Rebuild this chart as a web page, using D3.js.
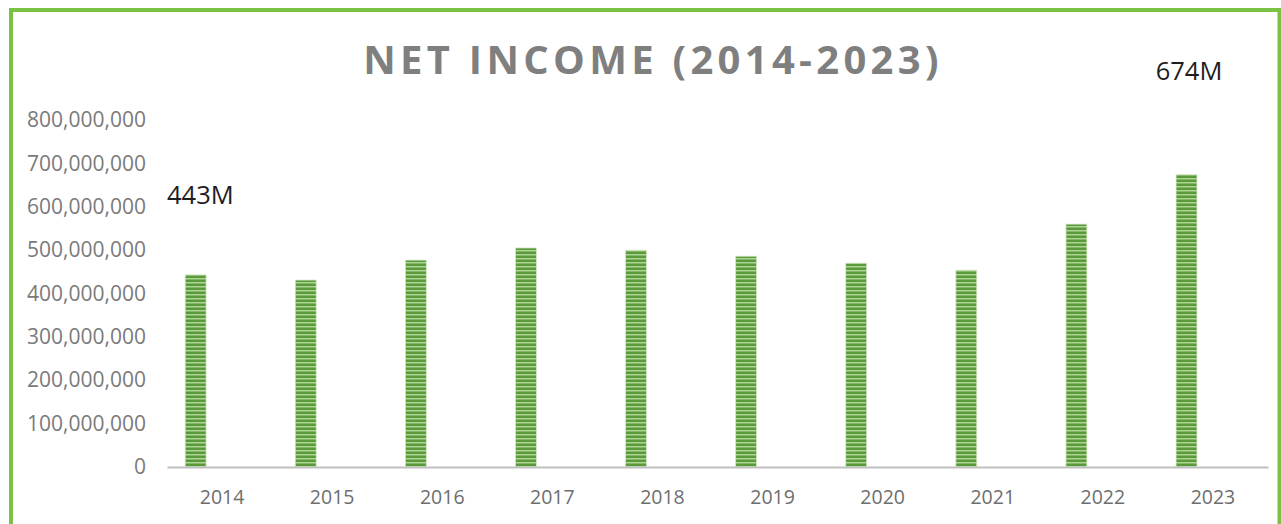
<!DOCTYPE html>
<html>
<head>
<meta charset="utf-8">
<script src="https://cdn.jsdelivr.net/npm/d3@7"></script>
<style>
  html, body { margin: 0; padding: 0; background: #fff; }
  svg { display: block; }
</style>
</head>
<body>
<figure id="net-income" style="margin:0"></figure>
<script>
const years = ["2014", "2015", "2016", "2017", "2018", "2019", "2020", "2021", "2022", "2023"];
const netIncome = [443e6, 431e6, 477e6, 505e6, 500e6, 486e6, 470e6, 454e6, 560e6, 674e6];
const yTicks = [0, 100e6, 200e6, 300e6, 400e6, 500e6, 600e6, 700e6, 800e6];
const callouts = [
  { year: "2014", value: 443e6, label: "443M" },
  { year: "2023", value: 674e6, label: "674M" }
];
const title = "NET INCOME (2014-2023)";

const width = 1281;
const height = 524;
const margin = { top: 120, right: 13, bottom: 57, left: 167 };

const svg = d3.select("figure#net-income")
  .append("svg")
  .attr("width", width)
  .attr("height", height);

// striped green fill for the bars
const defs = svg.append("defs");
const pat = defs.append("pattern")
  .attr("id", "stripes")
  .attr("patternUnits", "userSpaceOnUse")
  .attr("width", 8)
  .attr("height", 4);
pat.append("rect").attr("width", 8).attr("height", 4).attr("fill", "#5a9a3a");
pat.append("rect").attr("y", 2).attr("width", 8).attr("height", 1.5).attr("fill", "#aed495");

// outer green frame (bottom edge runs off the picture)
svg.append("rect")
  .attr("x", 11)
  .attr("y", 10)
  .attr("width", 1268.5)
  .attr("height", 540)
  .attr("fill", "none")
  .attr("stroke", "#7bc143")
  .attr("stroke-width", 4);

const x = d3.scaleBand()
  .domain(years)
  .range([margin.left, width - margin.right])
  .padding(0);

const y = d3.scaleLinear()
  .domain([0, 800e6])
  .range([height - margin.bottom, margin.top]);

// bars sit left of centre in each band, like an Excel cluster
const barOffset = x.bandwidth() * 0.165;
const barWidth = x.bandwidth() * 0.19;

svg.append("g")
  .selectAll("rect")
  .data(netIncome)
  .join("rect")
  .attr("x", (d, i) => x(years[i]) + barOffset)
  .attr("y", d => y(d))
  .attr("width", barWidth)
  .attr("height", d => y(0) - y(d))
  .attr("fill", "url(#stripes)")
  .attr("stroke", "#d3e8c6")
  .attr("stroke-width", 0.8);

// y axis labels only
const yAxis = d3.axisLeft(y)
  .tickValues(yTicks)
  .tickFormat(d3.format(","))
  .tickSize(0)
  .tickPadding(0);

svg.append("g")
  .attr("class", "y-axis")
  .attr("transform", "translate(146,0)")
  .call(yAxis)
  .call(g => g.select(".domain").remove())
  .call(g => g.selectAll("text")
    .attr("font-family", "'Open Sans', sans-serif")
    .attr("font-size", 21)
    .attr("fill", "#7a7a7a"));

// x axis
const xAxis = d3.axisBottom(x)
  .tickSize(0)
  .tickPadding(23);

svg.append("g")
  .attr("class", "x-axis")
  .attr("transform", "translate(0," + y(0) + ")")
  .call(xAxis)
  .call(g => g.select(".domain")
    .attr("stroke", "#bfbfbf")
    .attr("stroke-width", 2.2))
  .call(g => g.selectAll("text")
    .attr("font-family", "'Open Sans', sans-serif")
    .attr("font-size", 19.5)
    .attr("fill", "#6e6e6e"));

// title
svg.append("text")
  .attr("x", 653)
  .attr("y", 74)
  .attr("text-anchor", "middle")
  .attr("font-family", "'Open Sans', sans-serif")
  .attr("font-weight", "bold")
  .attr("font-size", 40)
  .attr("letter-spacing", 4.3)
  .attr("fill", "#7f7f7f")
  .text(title);

// value callouts
svg.append("g")
  .selectAll("text")
  .data(callouts)
  .join("text")
  .attr("x", d => x(d.year) + x.bandwidth() * (d.year === "2014" ? 0 : -0.02))
  .attr("y", d => d.year === "2014" ? y(d.value) - 71 : y(d.value) - 95)
  .attr("font-family", "'Open Sans', sans-serif")
  .attr("font-size", 25.5)
  .attr("fill", "#1e1e1e")
  .text(d => d.label);
</script>
</body>
</html>
